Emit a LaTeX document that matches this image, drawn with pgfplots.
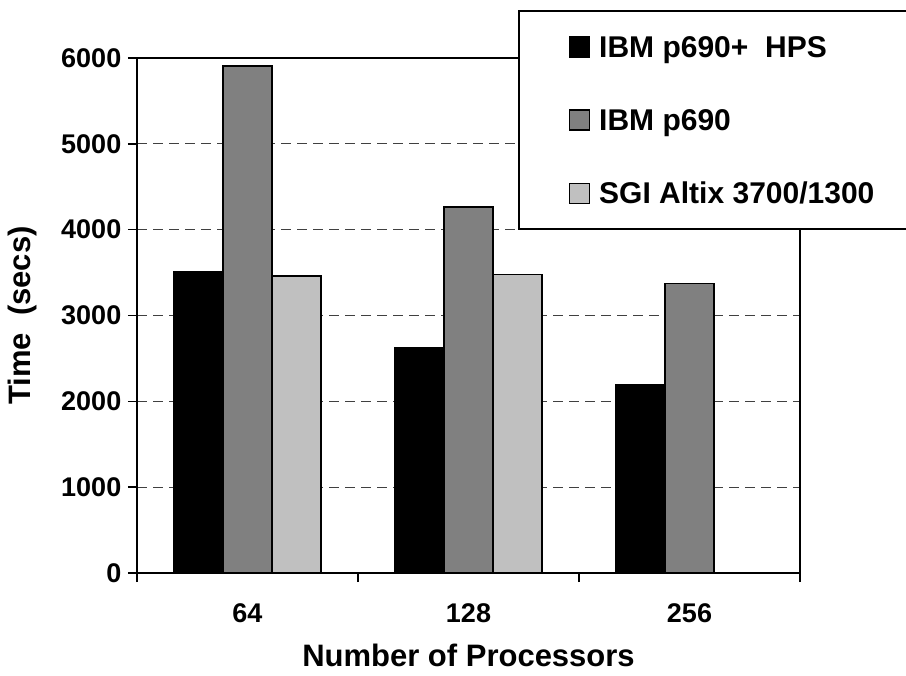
\documentclass[border=0pt]{standalone}
\usepackage{pgfplots}
\pgfplotsset{compat=1.18}
\usepackage{fontspec}
\setmainfont{Liberation Sans}
\definecolor{barblack}{HTML}{000000}
\definecolor{bargray}{HTML}{808080}
\definecolor{barlight}{HTML}{C0C0C0}
\begin{document}
\begin{tikzpicture}
\path[use as bounding box, clip] (0,0) rectangle (679.5pt,506.25pt);
\begin{axis}[
  at={(102.75pt,76.5pt)}, anchor=south west,
  scale only axis, width=497.25pt, height=386.25pt,
  xmin=-0.5, xmax=2.5, ymin=0, ymax=6000,
  ybar=0pt, bar width=36.75pt,
  legend image code/.code={\draw[#1,line width=0.9pt] (0pt,-7.5pt) rectangle (15pt,7.5pt);},
  axis line style={line width=1.5pt},
  tick align=outside,
  xtick pos=bottom, ytick pos=left,
  tick style={line width=1.2pt, black},
  major tick length=6.75pt,
  xtick={-0.5,0.5,1.5,2.5}, xticklabels={},
  extra x ticks={0,1,2}, extra x tick labels={64,128,256},
  extra x tick style={major tick length=0pt, grid=none,
     xticklabel style={anchor=base, yshift=-36.75pt}},
  ytick={0,1000,...,6000},
  ymajorgrids,
  major grid style={black!75, line width=0.75pt, dash pattern=on 7.5pt off 4.5pt},
  /pgf/number format/1000 sep={},
  /pgf/number format/assume math mode=true,
  ticklabel style={font=\fontsize{20.25pt}{21pt}\selectfont\bfseries},
  yticklabel style={anchor=east, xshift=-1.5pt},
  xlabel={Number of Processors},
  ylabel={Time\ \ (secs)},
  label style={font=\fontsize{23.25pt}{25pt}\selectfont\bfseries},
  xlabel style={at={(axis description cs:0.5,-0.1825)}, anchor=base},
  ylabel style={at={(axis description cs:-0.172,0.5)}, anchor=center, rotate=0},
  legend style={at={(0.5747,1.0932)}, anchor=north west, draw=black, line width=1.5pt,
     fill=white, inner xsep=37.5pt, inner ysep=19pt, row sep=38.8pt, column sep=6.75pt,
     font=\fontsize{22.5pt}{24pt}\selectfont\bfseries,
     nodes={inner sep=0pt, text height=16pt, text depth=0pt}},
  legend cell align=left,
]
\addplot[fill=barblack, draw=black, line width=0.9pt] coordinates {(0,3510) (1,2625) (2,2190)};
\addlegendentry{\makebox[217.5pt][l]{IBM p690+\ \ HPS}}
\addplot[fill=bargray, draw=black, line width=0.9pt] coordinates {(0,5907) (1,4264) (2,3375)};
\addlegendentry{\makebox[217.5pt][l]{IBM p690}}
\addplot[fill=barlight, draw=black, line width=0.9pt] coordinates {(0,3460) (1,3480)};
\addlegendentry{\makebox[217.5pt][l]{SGI Altix 3700/1300}}
\end{axis}
\end{tikzpicture}
\end{document}
